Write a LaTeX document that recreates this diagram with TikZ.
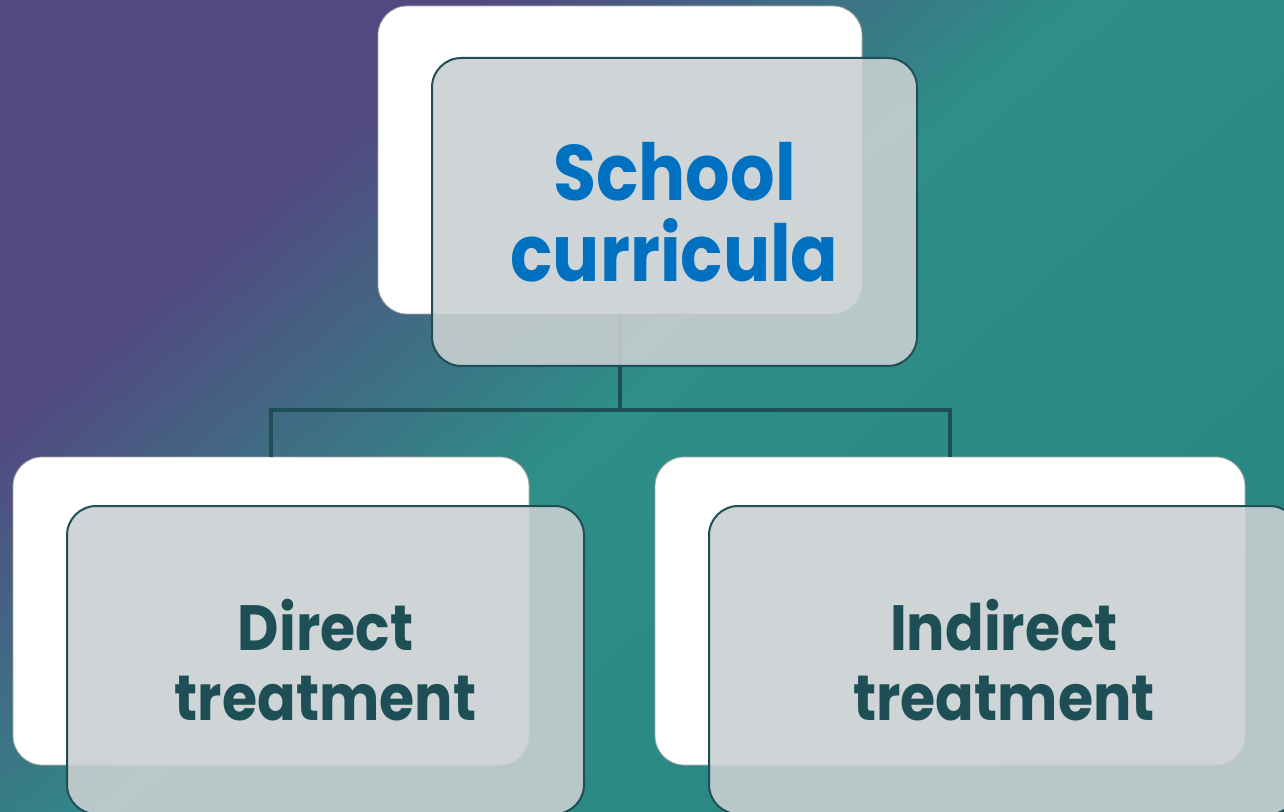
\documentclass[tikz,border=0pt]{standalone}
\usepackage{fontspec}
\setmainfont{Poppins}[FakeStretch=0.89]
\usepackage{tikz}
\usetikzlibrary{positioning}
\definecolor{bgpurple}{HTML}{534880}
\definecolor{bgteal}{HTML}{2E8E88}
\definecolor{bgtealdark}{HTML}{25807B}
\definecolor{edgeteal}{HTML}{1F4F56}
\definecolor{cardgrey}{HTML}{CAD0D1}
\definecolor{titleblue}{HTML}{0070C0}
\pgfdeclarehorizontalshading{slidebg}{100bp}{color(0bp)=(bgpurple); color(30bp)=(bgpurple); color(49bp)=(bgteal); color(100bp)=(bgtealdark)}
\tikzset{
	back card/.style={draw=gray!70, line width=0.6pt, fill=white, rounded corners=22pt,
		inner sep=0pt, minimum height={308*0.75pt}},
	front card/.style={draw=edgeteal, line width=1.5pt, fill=cardgrey, fill opacity=0.89,
		text opacity=1, rounded corners=22pt, inner sep=0pt, minimum height={308*0.75pt},
		align=center, font=\bfseries, text=edgeteal},
	top/.style={font=\fontsize{59}{61}\bfseries\selectfont, text=titleblue},
	low/.style={font=\fontsize{48}{52.5}\bfseries\selectfont},
	link/.style={draw=edgeteal, line width=3pt}
}

\begin{document}
\begin{tikzpicture}[x=0.75pt, y=-0.75pt]
		\useasboundingbox (0,0) rectangle (1284,812);
		\clip (0,0) rectangle (1284,812);
		\shade [shading=slidebg, shading angle=-49] (0,0) rectangle (1284,812);

		\foreach \l/\cx/\cy/\w in {top/620/160/484, left/271/611/516, right/950/611/590} {
			\node [back card, minimum width={\w*0.75pt}] (back-\l) at (\cx,\cy) {};
		};

		\coordinate (bus) at (620,410);
		\draw [link] (back-top.south) -- (bus) -| (back-left.north);
		\draw [link] (bus) -| (back-right.north);

		\node [front card, top, minimum width={485*0.75pt}] (front-top) at (674.5,212) {School\\curricula};
		\node [front card, low, minimum width={517*0.75pt}] (front-left) at (325.5,660) {Direct\\treatment};
		\node [front card, low, minimum width={590*0.75pt}] (front-right) at (1004,660) {Indirect\\treatment};
	\end{tikzpicture}
\end{document}
